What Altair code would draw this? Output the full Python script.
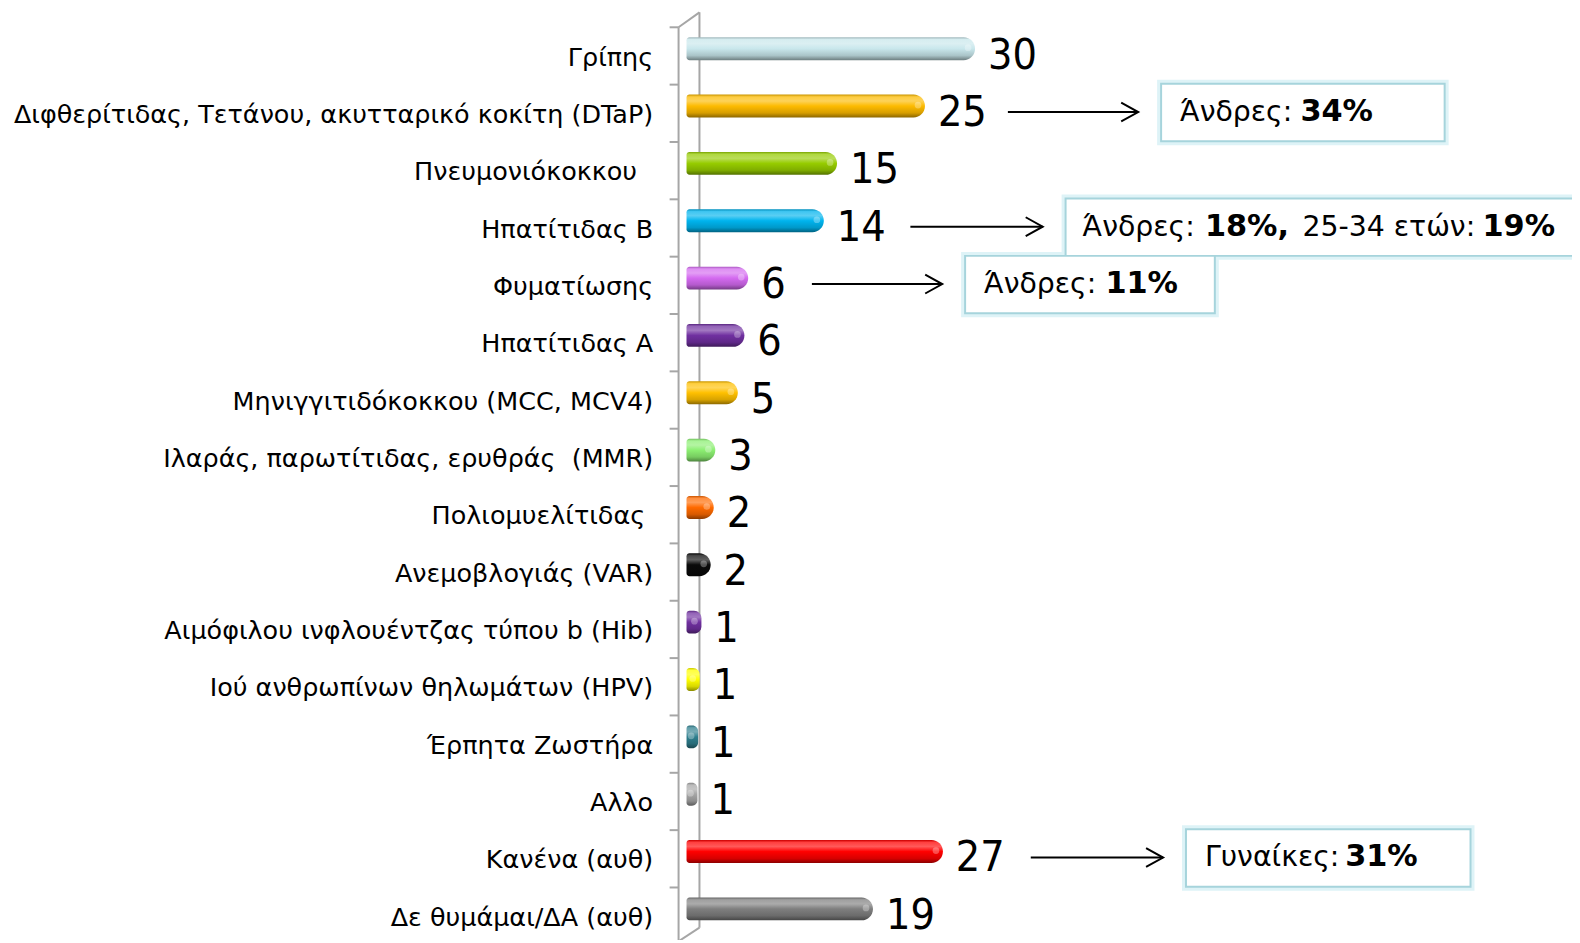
import altair as alt
import pandas as pd

# ---------------- data ----------------
categories = [
    "Γρίπης",
    "Διφθερίτιδας, Τετάνου, ακυτταρικό κοκίτη (DTaP)",
    "Πνευμονιόκοκκου\u00a0\u00a0\u200b",
    "Ηπατίτιδας Β",
    "Φυματίωσης",
    "Ηπατίτιδας Α",
    "Μηνιγγιτιδόκοκκου (MCC, MCV4)",
    "Ιλαράς, παρωτίτιδας, ερυθράς \u00a0(MMR)",
    "Πολιομυελίτιδας\u00a0\u200b",
    "Ανεμοβλογιάς (VAR)",
    "Αιμόφιλου ινφλουέντζας τύπου b (Hib)",
    "Ιού ανθρωπίνων θηλωμάτων (HPV)",
    "Έρπητα Ζωστήρα",
    "Αλλο",
    "Κανένα (αυθ)",
    "Δε θυμάμαι/ΔΑ (αυθ)",
]
# bar lengths (labels show the rounded numbers)
values = [30.0, 24.7, 15.4, 14.0, 6.0, 5.6, 4.9, 2.52, 2.35, 2.03, 1.05, 0.87, 0.7, 0.63, 26.6, 19.2]
value_labels = ["30", "25", "15", "14", "6", "6", "5", "3", "2", "2", "1", "1", "1", "1", "27", "19"]
bar_colors = [
    "#c9e7ec", "#fdbb00", "#96cc00", "#00b4ee", "#d46af0", "#7030a0",
    "#ffc000", "#8cef72", "#ff6a00", "#0a0a0a", "#7030a0", "#ffff00",
    "#2e7f8e", "#a6a6a6", "#ff0000", "#7f7f7f",
]

# annotations
ann_categories = [categories[1], categories[3], categories[4], categories[14]]
ann_arrow_from = [318, 220, 121, 341]      # pixel offsets from plot left
ann_arrow_to = [449, 353, 252, 474]
ann_box_left = [472, 376, 275, 497]
ann_box_right = [757, 888, 526, 783]

part_categories = [categories[1], categories[1],
                   categories[3], categories[3], categories[3], categories[3],
                   categories[4], categories[4],
                   categories[14], categories[14]]
part_texts = ["Άνδρες:", "34%",
              "Άνδρες:", "18%,", "25-34 ετών:", "19%",
              "Άνδρες:", "11%",
              "Γυναίκες:", "31%"]
part_bold = [False, True, False, True, False, True, False, True, False, True]
part_x = [491, 612, 393, 516, 614, 795, 294, 416, 516, 657]

# ---------------- layout ----------------
FONT_C = "DejaVu Sans Condensed, DejaVu Sans, sans-serif"
FONT = "DejaVu Sans, sans-serif"
W = 885
STEP = 57.64
H = STEP * len(categories)
PX_PER_UNIT = 9.5
AXIS_GRAY = "#a6a6a6"


def mix(hexc, f):
    hexc = hexc.lstrip("#")
    r, g, b = (int(hexc[i:i + 2], 16) for i in (0, 2, 4))
    if f >= 0:
        r, g, b = (int(c + (255 - c) * f) for c in (r, g, b))
    else:
        r, g, b = (int(c * (1 + f)) for c in (r, g, b))
    return "#%02x%02x%02x" % (r, g, b)


def grad(c):
    stops = [(0.0, mix(c, -0.2)), (0.1, mix(c, 0.25)), (0.28, mix(c, 0.35)),
             (0.5, c), (0.8, mix(c, -0.15)), (1.0, mix(c, -0.45))]
    return alt.Gradient(gradient="linear", x1=0, x2=0, y1=0, y2=1,
                        stops=[alt.GradientStop(offset=o, color=s) for o, s in stops])


df = pd.DataFrame({"cat": categories, "value": values, "label": value_labels,
                   "i": list(range(len(categories)))})
ann = pd.DataFrame({"cat": ann_categories, "ax1": ann_arrow_from, "ax2": ann_arrow_to,
                    "bx1": ann_box_left, "bx2": ann_box_right})
parts = pd.DataFrame({"cat": part_categories, "t": part_texts, "bold": part_bold, "tx": part_x})
one = pd.DataFrame({"k": [0]})

yscale = alt.Scale(domain=categories, paddingInner=0, paddingOuter=0)
Y = alt.Y("cat:N", scale=yscale, sort=None, title=None,
          axis=alt.Axis(domain=False, ticks=False, grid=False, labelFont=FONT, labelFontSize=25.6,
                        labelColor="black", labelPadding=39, labelBaseline="alphabetic",
                        labelOffset=17, labelLimit=0, labelAlign="right"))
xscale = alt.Scale(domain=[0, W / PX_PER_UNIT], nice=False, zero=True)
XV = alt.X("value:Q", scale=xscale, axis=None)
CAP = -5 / PX_PER_UNIT   # rounded base of the 3-D cylinders starts slightly left of zero

layers = []

# 3-D wall of the category axis
wall = [(-13, 7.3, -13, 926), (8, -7.7, 8, 912.3), (-13, 7.3, 8, -7.7), (-13, 926, 8, 912.3)]
for x1, y1, x2, y2 in wall:
    layers.append(alt.Chart(one).mark_rule(color=AXIS_GRAY, strokeWidth=2).encode(
        x=alt.value(x1), y=alt.value(y1), x2=alt.value(x2), y2=alt.value(y2)))
layers.append(alt.Chart(df).mark_rule(color=AXIS_GRAY, strokeWidth=2, yOffset=-STEP / 2 + 7.3).encode(
    y=Y, x=alt.value(-22), x2=alt.value(-13)))

# bars (one layer each so every bar gets its own shaded gradient)
for k, c in enumerate(bar_colors):
    layers.append(
        alt.Chart(df).transform_filter(alt.datum.i == k).mark_bar(
            color=grad(c), size=23,
            cornerRadiusTopRight=11.5, cornerRadiusBottomRight=11.5,
            cornerRadiusTopLeft=3, cornerRadiusBottomLeft=3,
        ).encode(y=Y, x=XV, x2=alt.X2(datum=CAP))
    )

# specular highlight near the rounded end of each cylinder
layers.append(alt.Chart(df).mark_point(shape="circle", filled=True, color="white", opacity=0.3,
                                       size=45, xOffset=-7, yOffset=-1, strokeWidth=0).encode(
    y=Y, x=XV))

# value labels
layers.append(alt.Chart(df).mark_text(align="left", baseline="alphabetic", dx=13, dy=20,
                                      font=FONT_C, fontSize=43, color="black").encode(
    y=Y, x=XV, text="label:N"))

# annotation boxes
layers.append(alt.Chart(ann).mark_rect(fill=None, stroke="#def3f7", strokeWidth=8,
                                       yOffset=6.5, y2Offset=6.5).encode(
    y=Y, x=alt.X("bx1:Q", scale=None, axis=None), x2="bx2:Q"))
layers.append(alt.Chart(ann).mark_rect(fill="white", stroke="#a6d4dc", strokeWidth=2,
                                       yOffset=6.5, y2Offset=6.5).encode(
    y=Y, x=alt.X("bx1:Q", scale=None, axis=None), x2="bx2:Q"))

# arrows
layers.append(alt.Chart(ann).mark_rule(color="black", strokeWidth=2, yOffset=6).encode(
    y=Y, x=alt.X("ax1:Q", scale=None, axis=None), x2="ax2:Q"))
layers.append(alt.Chart(ann).mark_point(shape="M -1.8 -1 L 0 0 L -1.8 1", filled=False,
                                        stroke="black", strokeWidth=2, size=361, opacity=1,
                                        yOffset=6).encode(
    y=Y, x=alt.X("ax2:Q", scale=None, axis=None)))

# annotation texts (normal + bold parts)
for bold in (False, True):
    layers.append(alt.Chart(parts).transform_filter(alt.datum.bold == bold).mark_text(
        align="left", baseline="alphabetic", dy=15, font=FONT, fontSize=30.5 if bold else 28.5,
        fontWeight="bold" if bold else "normal", color="black").encode(
        y=Y, x=alt.X("tx:Q", scale=None, axis=None), text="t:N"))

chart = alt.layer(*layers).resolve_scale(x="independent").properties(
    width=W, height=H,
    padding={"left": 687, "top": 9.7, "right": 0, "bottom": 0},
    autosize=alt.AutoSizeParams(type="none"),
).configure_view(stroke=None)

chart.save("out.html", embed_options={"renderer": "svg", "actions": False})
